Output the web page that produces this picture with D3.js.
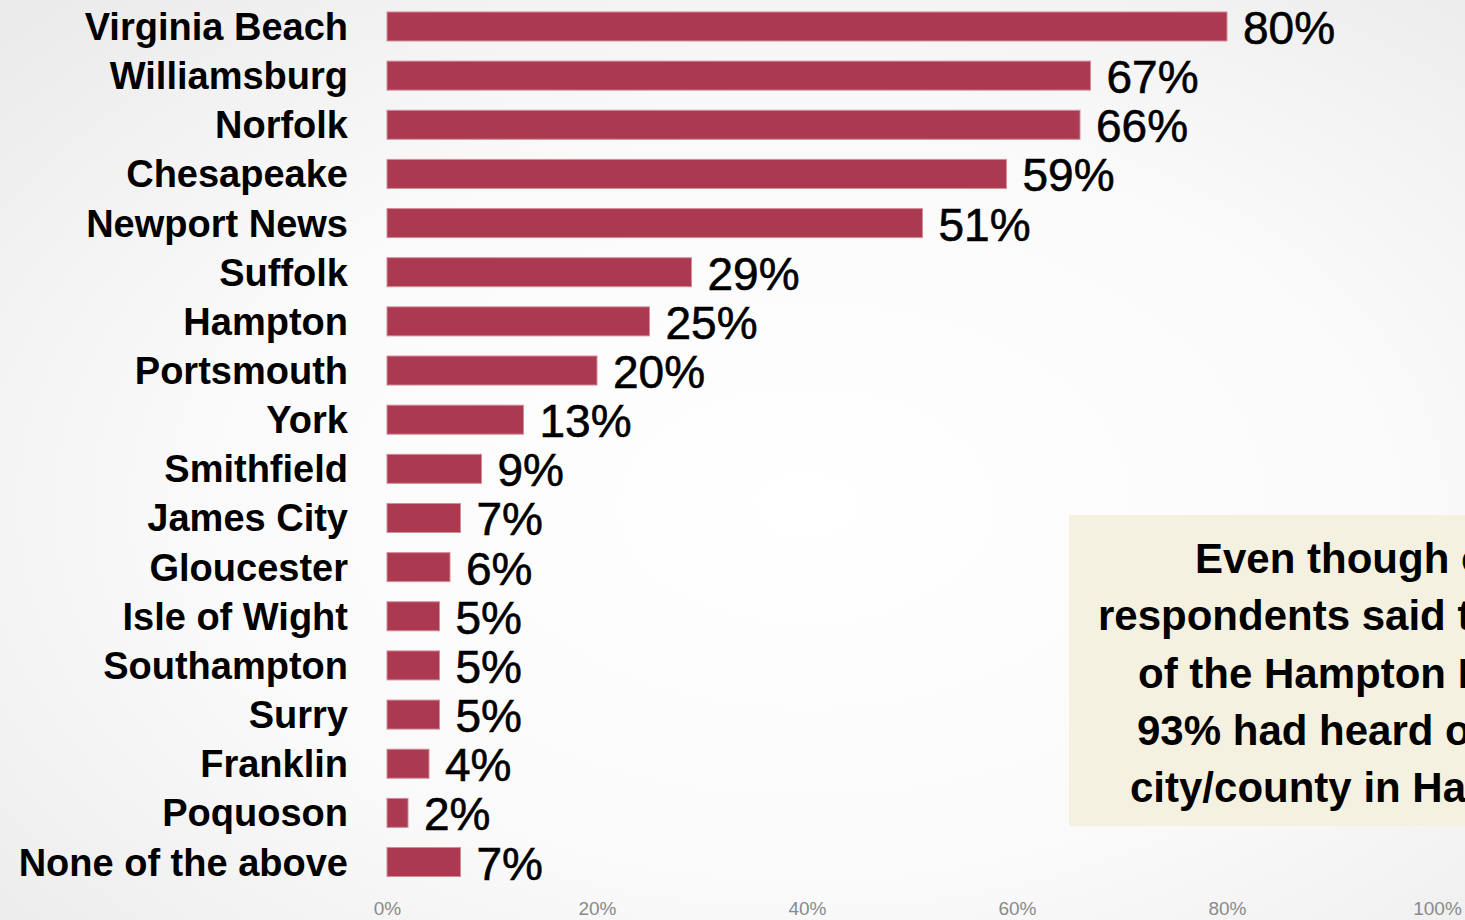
<!DOCTYPE html>
<html>
<head>
<meta charset="utf-8">
<script src="https://cdn.jsdelivr.net/npm/d3@7/dist/d3.min.js"></script>
<style>
  html, body { margin: 0; padding: 0; overflow: hidden; }
  svg { display: block; }
</style>
</head>
<body>
<svg id="chart" width="1465" height="920"></svg>
<script>
// Localities heard of, share of respondents
const categories = [
  "Virginia Beach", "Williamsburg", "Norfolk", "Chesapeake", "Newport News",
  "Suffolk", "Hampton", "Portsmouth", "York", "Smithfield", "James City",
  "Gloucester", "Isle of Wight", "Southampton", "Surry", "Franklin",
  "Poquoson", "None of the above"
];
const values = [80, 67, 66, 59, 51, 29, 25, 20, 13, 9, 7, 6, 5, 5, 5, 4, 2, 7];
const tickValues = [0, 20, 40, 60, 80, 100];
const noteLines = [
  "Even though only 7% of",
  "respondents said they had not heard",
  "of the Hampton Roads localities,",
  "93% had heard of at least one",
  "city/county in Hampton Roads."
];

const W = 1465, H = 920;
const svg = d3.select("#chart");

// soft radial background
const defs = svg.append("defs");
const grad = defs.append("radialGradient")
  .attr("id", "bg").attr("cx", "55%").attr("cy", "55%").attr("r", "75%");
grad.append("stop").attr("offset", "0%").attr("stop-color", "#ffffff");
grad.append("stop").attr("offset", "55%").attr("stop-color", "#fafafa");
grad.append("stop").attr("offset", "100%").attr("stop-color", "#ebebeb");
svg.append("rect").attr("width", W).attr("height", H).attr("fill", "url(#bg)");

// scales
const x = d3.scaleLinear().domain([0, 100]).range([387, 1437]);
const step = 49.15;
const y = d3.scaleBand()
  .domain(categories)
  .range([1.9, 1.9 + step * categories.length])
  .paddingInner(0.41)
  .paddingOuter(0.205);

const rows = categories.map((c, i) => ({ name: c, value: values[i] }));

// bars
svg.append("g").selectAll("rect")
  .data(rows)
  .join("rect")
  .attr("x", x(0))
  .attr("y", d => y(d.name))
  .attr("width", d => x(d.value) - x(0))
  .attr("height", y.bandwidth())
  .attr("fill", "#ab3a50")
  .attr("stroke", "#d48b9a")
  .attr("stroke-width", 1);

// category labels
svg.append("g").selectAll("text")
  .data(rows)
  .join("text")
  .attr("x", 348)
  .attr("y", d => y(d.name) + y.bandwidth() / 2 + 13.5)
  .attr("text-anchor", "end")
  .attr("font-family", "'Liberation Sans', Arial, sans-serif")
  .attr("font-weight", "bold")
  .attr("font-size", 38)
  .attr("fill", "#000")
  .text(d => d.name);

// value labels
svg.append("g").selectAll("text")
  .data(rows)
  .join("text")
  .attr("x", d => x(d.value) + 16)
  .attr("y", d => y(d.name) + y.bandwidth() / 2 + 17.5)
  .attr("font-family", "'Liberation Sans', Arial, sans-serif")
  .attr("font-size", 46)
  .attr("fill", "#000")
  .attr("stroke", "#000")
  .attr("stroke-width", 0.6)
  .text(d => d.value + "%");

// bottom axis labels
const axis = d3.axisBottom(x)
  .tickValues(tickValues)
  .tickFormat(d => d + "%")
  .tickSize(0)
  .tickPadding(0);
const ax = svg.append("g").attr("transform", "translate(0,901)").call(axis);
ax.select(".domain").remove();
ax.selectAll("text")
  .attr("dy", null)
  .attr("y", 14)
  .attr("font-family", "'Liberation Sans Narrow', 'Liberation Sans', Arial, sans-serif")
  .attr("font-size", 19)
  .attr("fill", "#8a8a8a");

// note box (runs off the right edge)
const noteLeft = [1195, 1098, 1138, 1137, 1130];
const note = svg.append("g");
note.append("rect")
  .attr("x", 1069).attr("y", 515)
  .attr("width", 520).attr("height", 311)
  .attr("fill", "#f5f1e0");
note.append("g").selectAll("text")
  .data(noteLines)
  .join("text")
  .attr("x", (d, i) => noteLeft[i])
  .attr("y", (d, i) => 573 + i * 57.3)
  .attr("font-family", "'Liberation Sans', Arial, sans-serif")
  .attr("font-weight", "bold")
  .attr("font-size", 42)
  .attr("fill", "#000")
  .text(d => d);
</script>
</body>
</html>
